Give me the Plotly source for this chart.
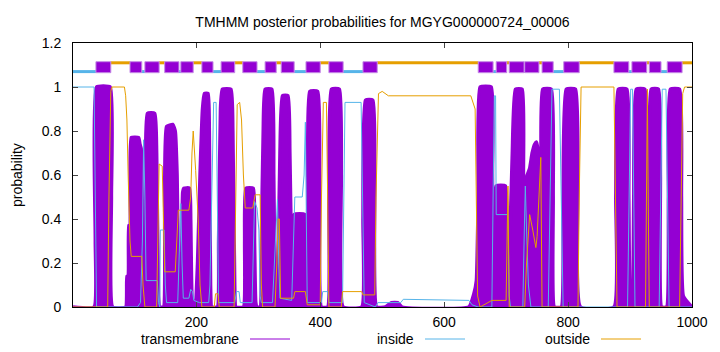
import plotly.graph_objects as go

# ---------------- data ----------------
seq_len = 1000
title = "TMHMM posterior probabilities for MGYG000000724_00006"
x_ticks = [200, 400, 600, 800, 1000]
y_ticks = [0, 0.2, 0.4, 0.6, 0.8, 1.0, 1.2]
series_names = ["transmembrane", "inside", "outside"]

# predicted topology (top bar)
tm_start = [38, 93, 117, 149, 175, 209, 240, 275, 311, 337, 377, 414, 469,
            655, 684, 705, 730, 758, 793, 874, 903, 931, 960]
tm_end = [62, 112, 140, 172, 195, 227, 262, 298, 329, 358, 400, 437, 492,
          679, 701, 729, 753, 776, 818, 898, 927, 950, 984]
first_region = "inside"

# posterior probabilities (breakpoints)
tm_pos = [1, 35, 37, 39, 61, 63, 65,
          86, 88, 90, 91, 93, 95, 107, 109, 111, 113, 115,
          116, 118, 121, 133, 136, 139, 141,
          147, 149, 152, 162, 166, 169, 172, 174,
          176, 178, 180, 189, 191, 193, 196,
          198, 202, 206, 210, 213, 219, 221, 223, 225,
          234, 236, 239, 242, 256, 259, 262, 264,
          276, 278, 280, 292, 294, 296, 298,
          303, 305, 308, 311, 322, 325, 327, 329,
          330, 332, 335, 339, 348, 351, 354, 357, 358, 375, 377,
          378, 380, 383, 396, 399, 402,
          412, 414, 418, 431, 434, 437,
          467, 469, 473, 485, 488, 491,
          505, 515, 525, 532,
          640, 648, 652, 655, 658, 676, 678, 680,
          683, 684, 699, 701,
          703, 706, 710, 715, 726, 728, 730,
          731, 734, 738, 742, 746, 749, 751, 753, 755,
          756, 757, 759, 773, 776, 778,
          789, 792, 797, 812, 816, 820,
          874, 877, 881, 895, 898, 901,
          903, 906, 910, 924, 927, 928,
          929, 931, 934, 946, 949, 951,
          959, 962, 965, 980, 983, 986, 1000]
tm_prob = [0, 0, 0.3, 1.0, 1.0, 0.5, 0,
           0, 0.14, 0.14, 0.37, 0.37, 0.77, 0.77, 0.74, 0.72, 0.1, 0,
           0, 0.6, 0.88, 0.88, 0.7, 0.05, 0,
           0, 0.4, 0.82, 0.83, 0.8, 0.6, 0.05, 0,
           0.1, 0.52, 0.54, 0.54, 0.4, 0.05, 0,
           0, 0.2, 0.6, 0.9, 0.97, 0.97, 0.8, 0.1, 0,
           0, 0.3, 0.9, 0.99, 0.99, 0.8, 0.1, 0,
           0, 0.3, 0.54, 0.54, 0.3, 0.02, 0,
           0, 0.3, 0.8, 0.99, 0.99, 0.6, 0.1, 0,
           0, 0.2, 0.7, 0.96, 0.96, 0.7, 0.2, 0.05, 0.42, 0.42, 0.05,
           0, 0.5, 0.98, 0.98, 0.6, 0,
           0, 0.5, 0.99, 0.99, 0.6, 0,
           0, 0.4, 0.94, 0.94, 0.6, 0,
           0, 0.02, 0.02, 0,
           0, 0.06, 0.12, 0.5, 1.0, 1.0, 0.6, 0,
           0, 0.55, 0.55, 0,
           0, 0.3, 0.7, 0.99, 0.99, 0.6, 0.45,
           0.55, 0.6, 0.63, 0.7, 0.74, 0.75, 0.72, 0.6, 0,
           0, 0.5, 0.99, 0.99, 0.5, 0,
           0, 0.5, 0.99, 0.99, 0.6, 0,
           0, 0.5, 0.99, 0.99, 0.5, 0,
           0, 0.5, 0.99, 0.99, 0.5, 0,
           0, 0.6, 0.99, 0.99, 0.6, 0,
           0, 0.5, 0.99, 0.99, 0.5, 0.05, 0]

in_pos = [1, 35, 37, 39, 105, 110, 113, 115, 117, 119, 137, 139, 141, 142, 148, 150, 152,
          170, 172, 175, 177, 179, 188, 191, 194, 196, 205, 220, 222, 225, 228, 232, 234, 236,
          262, 265, 269, 271, 290, 292, 294, 298, 301, 303, 305,
          323, 328, 331, 333, 335, 354, 357, 359, 371, 374, 376, 377, 379,
          402, 404, 412, 414, 436, 438, 440, 466, 468, 471, 489, 493, 530, 534, 640, 645, 655,
          677, 679, 681, 683, 684, 703, 705, 707,
          727, 729, 731, 733, 736, 740, 768, 771, 774, 786, 789, 792,
          896, 899, 901, 904, 906, 908, 947, 950, 952, 958, 961, 963, 1000]
in_prob = [1.0, 1.0, 0.5, 0, 0, 0.02, 0.3, 0.76, 0.5, 0.12, 0.12, 0.02, 0, 0.35, 0.35, 0.1, 0.02,
           0.02, 0.2, 0.47, 0.2, 0.04, 0.04, 0.08, 0.07, 0.03, 0.02, 0.02, 0.1, 0.6, 0.93, 0.93, 0.5, 0.02,
           0.02, 0.07, 0.07, 0.02, 0.02, 0.2, 0.48, 0.45, 0.35, 0.05, 0.02,
           0.02, 0.3, 0.49, 0.2, 0.04, 0.03, 0.3, 0.5, 0.5, 0.6, 0.84, 0.4, 0.02,
           0.02, 0.07, 0.07, 0.02, 0.02, 0.6, 0.93, 0.93, 0.5, 0.02, 0, 0.02, 0.02, 0.035, 0.03, 0.01, 0,
           0, 0.5, 0.96, 0.96, 0.42, 0.42, 0.05, 0,
           0, 0.3, 0.55, 0.35, 0.1, 0, 0, 0.5, 0.99, 0.99, 0.5, 0,
           0, 0.5, 0.99, 0.99, 0.5, 0, 0, 0.5, 0.99, 0.99, 0.5, 0, 0]

out_pos = [1, 57, 59, 62, 64, 84, 86, 88, 90, 93, 95, 112, 114, 117,
           136, 138, 140, 145, 147, 149, 166, 168, 171, 188, 191, 193, 195, 199, 203, 206, 209,
           229, 231, 235, 237, 261, 264, 266, 270, 273, 276, 279, 291, 295, 303, 305, 307,
           327, 330, 332, 334, 336, 357, 359, 376, 378, 379, 400, 402, 405, 410, 412, 414,
           434, 436, 467, 469, 488, 490, 494, 500, 510, 643, 650, 654, 658,
           677, 700, 702, 703, 705, 730, 733, 738, 743, 748, 750, 754, 756, 758,
           816, 818, 821, 874, 876, 879, 925, 927, 928, 929, 931, 980, 982, 985, 988, 1000]
out_prob = [0, 0, 0.5, 0.98, 1.0, 1.0, 0.96, 0.85, 0.6, 0.3, 0.23, 0.23, 0.1, 0,
            0, 0.3, 0.65, 0.64, 0.4, 0.16, 0.16, 0.3, 0.44, 0.44, 0.5, 0.7, 0.8, 0.62, 0.4, 0.1, 0,
            0, 0.06, 0.06, 0, 0, 0.5, 0.92, 0.93, 0.85, 0.6, 0.45, 0.45, 0.51, 0.51, 0.1, 0,
            0, 0.2, 0.4, 0.4, 0.04, 0.04, 0.07, 0.07, 0.03, 0.01, 0.01, 0.5, 0.93, 0.93, 0.5, 0,
            0, 0.07, 0.07, 0.055, 0.055, 0.5, 0.97, 0.98, 0.96, 0.96, 0.9, 0.05, 0,
            0.03, 0.03, 0.3, 0.55, 0,
            0, 0.2, 0.42, 0.35, 0.27, 0.32, 0.55, 0.68, 0,
            0, 0.5, 1.0, 1.0, 0.5, 0, 0, 0.6, 0.99, 0.6, 0, 0, 0.5, 0.97, 1.0, 1.0]

# ---------------- styles ----------------
C_TM = "#9400d3"
C_IN = "#56b4e9"
C_OUT = "#e69f00"
FONT = "Liberation Sans, Arial, sans-serif"
FS = 14
Y_OUT, Y_IN, Y_BOX0, Y_BOX1 = 1.11, 1.07, 1.065, 1.115

fig = go.Figure()

# posterior curves
fig.add_trace(go.Scatter(x=tm_pos, y=tm_prob, mode="lines", fill="tozeroy",
                         line=dict(color=C_TM, width=3.5, shape="spline", smoothing=0.4),
                         fillcolor=C_TM, name=series_names[0], showlegend=False))
fig.add_trace(go.Scatter(x=in_pos, y=in_prob, mode="lines",
                         line=dict(color=C_IN, width=1), name=series_names[1], showlegend=False))
fig.add_trace(go.Scatter(x=out_pos, y=out_prob, mode="lines",
                         line=dict(color=C_OUT, width=1), name=series_names[2], showlegend=False))

# topology bar: gaps alternate inside/outside
bounds = [1] + [v for pair in zip(tm_start, tm_end) for v in pair] + [seq_len]
gx_in, gy_in, gx_out, gy_out = [], [], [], []
region = first_region
for i in range(0, len(bounds), 2):
    a, b = bounds[i], bounds[i + 1]
    if region == "inside":
        gx_in += [a, b, None]; gy_in += [Y_IN, Y_IN, None]
    else:
        gx_out += [a, b, None]; gy_out += [Y_OUT, Y_OUT, None]
    region = "outside" if region == "inside" else "inside"

fig.add_trace(go.Scatter(x=gx_in, y=gy_in, mode="lines", line=dict(color=C_IN, width=3),
                         showlegend=False, hoverinfo="skip"))
fig.add_trace(go.Scatter(x=gx_out, y=gy_out, mode="lines", line=dict(color=C_OUT, width=3),
                         showlegend=False, hoverinfo="skip"))
bx, by = [], []
for a, b in zip(tm_start, tm_end):
    bx += [a, b, b, a, a, None]
    by += [Y_BOX0, Y_BOX0, Y_BOX1, Y_BOX1, Y_BOX0, None]
fig.add_trace(go.Scatter(x=bx, y=by, mode="lines", fill="toself", fillcolor=C_TM,
                         line=dict(color="#c58ae6", width=1), showlegend=False, hoverinfo="skip"))

# legend (gnuplot style: text then sample line)
L, R, T, B = 73, 28, 43, 45
W, H = 720 - L - R, 352 - T - B
def px(x):
    return (x - L) / W
leg_y = (352 - B - 339) / H
legend_items = [(series_names[0], C_TM, 241), (series_names[1], C_IN, 416), (series_names[2], C_OUT, 592)]
for name, col, xr in legend_items:
    fig.add_annotation(x=px(xr), y=leg_y, xref="paper", yref="paper", text=name,
                       showarrow=False, xanchor="right", yanchor="middle",
                       font=dict(family=FONT, size=FS, color="black"))
    fig.add_shape(type="line", xref="paper", yref="paper", x0=px(xr + 9), x1=px(xr + 49),
                  y0=leg_y, y1=leg_y, line=dict(color=col, width=1))

fig.add_annotation(x=px(17), y=0.5, xref="paper", yref="paper", text="probability",
                   textangle=-90, showarrow=False, xanchor="center", yanchor="middle",
                   font=dict(family=FONT, size=FS, color="black"))

fig.update_layout(
    width=720, height=352,
    margin=dict(l=L, r=R, t=T, b=B),
    paper_bgcolor="white", plot_bgcolor="white",
    font=dict(family=FONT, size=FS, color="black"),
    title=dict(text=title, x=px(382.5), xref="paper", y=1 - 22 / 352, yref="container",
               xanchor="center", yanchor="middle", font=dict(family=FONT, size=FS, color="black")),
    showlegend=False,
    xaxis=dict(range=[1, seq_len], tickvals=x_ticks, ticks="inside", ticklen=5,
               showline=True, linecolor="black", linewidth=1, mirror="ticks",
               showgrid=False, zeroline=False, tickfont=dict(size=FS), ticklabelstandoff=2),
    yaxis=dict(range=[0, 1.2], tickvals=y_ticks, ticks="inside", ticklen=5,
               showline=True, linecolor="black", linewidth=1, mirror="ticks",
               showgrid=False, zeroline=False, tickfont=dict(size=FS), ticklabelstandoff=8),
)

fig.write_html("out.html")
